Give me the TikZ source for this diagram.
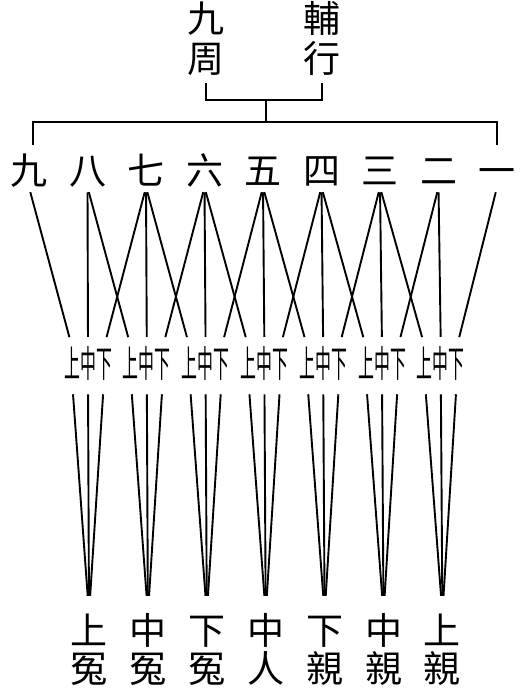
\documentclass[tikz,border=0pt]{standalone}
\usepackage{fontspec}
\usepackage{graphicx}
\newfontfamily\cjk{Noto Sans CJK SC}
\usetikzlibrary{positioning}
\tikzset{
  glyph/.style={font=\cjk\fontsize{37}{37}\selectfont,inner sep=0pt,text height=30.5pt,text depth=2.6pt,anchor=base},
  link/.style={line width=1.9pt},
  fanup/.style={link,shorten <=5pt,shorten >=10pt},
  fandown/.style={link,shorten <=14pt,shorten >=18pt},
}
\newcommand{\thin}[1]{\scalebox{0.43}[1]{#1}}

\begin{document}
\begin{tikzpicture}[x=1pt,y=-1pt]
  \useasboundingbox (0,0) rectangle (526,693);
  % heading pair
  \node[glyph] (jiu) at (206,33) {九};
  \node[glyph,below=6.5pt of jiu] (zhou) {周};
  \node[glyph] (fu) at (322,33) {輔};
  \node[glyph,below=6.5pt of fu] (xing) {行};
  \coordinate (hub) at (266,100);
  \coordinate (bar) at (266,122);
  \coordinate (lb) at (33,145);
  \coordinate (rb) at (497,145);
  \draw[link,shorten <=7pt,shorten >=7pt] (zhou.south) |- (hub) -| (xing.south);
  \draw[link] (hub) -- (bar);
  \draw[link] (lb) |- (bar) -| (rb);
  % numbers
  \foreach \ch [count=\i from 0] in {九,八,七,六,五,四,三,二,一}
    \node[glyph] (n\i) at (29+58.5*\i,184.5) {\ch};
  % small labels
  \foreach \g in {0,...,6}{
    \node[glyph] (up\g) at (72+58.8*\g,377.5) {\thin{上}};
    \node[glyph] (mid\g) at (88+58.8*\g,377.5) {\thin{中}};
    \node[glyph] (lo\g) at (104+58.8*\g,377.5) {\thin{下}};
  }
  % bottom labels
  \foreach \a/\b [count=\g from 0] in {上/冤,中/冤,下/冤,中/人,下/親,中/親,上/親}{
    \node[glyph] (b\g) at (89+58.9*\g,644.5) {\a};
    \node[glyph,below=4.5pt of b\g] (c\g) {\b};
  }
  % upper fans
  \foreach \g in {0,...,6}{
    \pgfmathtruncatemacro\j{\g+1}
    \pgfmathtruncatemacro\k{\g+2}
    \draw[fanup] (n\g.south) -- (up\g.north);
    \draw[fanup] (n\j.south) -- (mid\g.north);
    \draw[fanup] (n\k.south) -- (lo\g.north);
  }
  % lower fans
  \foreach \g in {0,...,6}
    \foreach \s in {up,mid,lo}
      \draw[fandown] (\s\g.south) -- (b\g.north);
\end{tikzpicture}
\end{document}
